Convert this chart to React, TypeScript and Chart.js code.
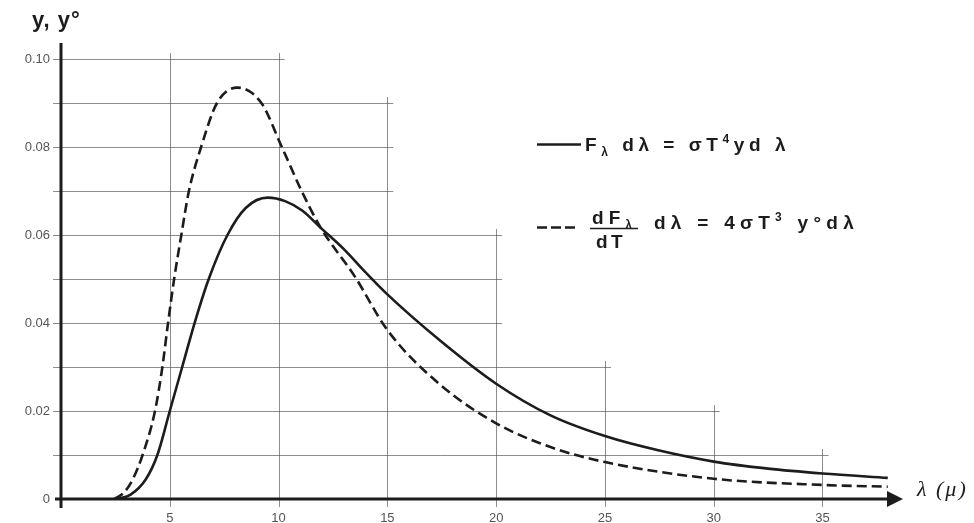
import React, { useEffect, useRef } from 'react';
import { Chart, registerables } from 'chart.js';

Chart.register(...registerables);

// ---- data ----
// solid curve: F_λ dλ = σT⁴ y dλ   (y)
const solidX = [2.6, 3.2, 3.9, 4.43, 5.0, 5.57, 6.14, 6.79, 7.65, 8.5, 9.5, 10.3, 11.1, 11.9, 13.0, 14.0, 15.0, 17.45, 20.0, 22.5, 25.0, 27.5, 30.0, 32.5, 35.0, 38.0];
const solidY = [0.0, 0.001, 0.0045, 0.01, 0.02, 0.03, 0.04, 0.05, 0.06, 0.0662, 0.0685, 0.0677, 0.0655, 0.0618, 0.0568, 0.0515, 0.0465, 0.0359, 0.0262, 0.019, 0.0143, 0.011, 0.0085, 0.0069, 0.0058, 0.0048];
// dashed curve: dFλ/dT dλ = 4σT³ y° dλ   (y°)
const dashedX = [2.45, 2.9, 3.3, 3.75, 4.32, 4.66, 4.92, 5.2, 5.53, 5.88, 6.44, 7.17, 8.1, 9.21, 10.15, 11.06, 11.92, 13.5, 15.0, 17.4, 20.0, 22.5, 25.0, 30.0, 35.0, 38.0];
const dashedY = [0.0, 0.0015, 0.0045, 0.01, 0.02, 0.03, 0.04, 0.05, 0.06, 0.07, 0.08, 0.09, 0.0935, 0.09, 0.08, 0.07, 0.0618, 0.0506, 0.0384, 0.0261, 0.0172, 0.0118, 0.0084, 0.0046, 0.0032, 0.0028];

const xTickValues = [5, 10, 15, 20, 25, 30, 35];
const xTickLabels = ['5', '10', '15', '20', '25', '30', '35'];
const yTickValues = [0, 0.02, 0.04, 0.06, 0.08, 0.1];
const yTickLabels = ['0', '0.02', '0.04', '0.06', '0.08', '0.10'];

// stepped grid of the figure
const vGridX = [5, 10, 15, 20, 25, 30, 35];
const vGridTop = [0.1, 0.1, 0.09, 0.06, 0.03, 0.02, 0.01];
const hGridY = [0.01, 0.02, 0.03, 0.04, 0.05, 0.06, 0.07, 0.08, 0.09, 0.1];
const hGridRight = [35, 30, 25, 20, 20, 20, 15, 15, 15, 10];

const X_MAX = 38.7;
const Y_MAX = 0.10364;

const yTitle = 'y, y°';
const xTitle = 'λ (μ)';
type Run = { t: string; k: 'n' | 'sub' | 'sup' };
const legendSolidRuns: Run[] = [
  { t: 'F', k: 'n' }, { t: 'λ', k: 'sub' }, { t: ' dλ = σT', k: 'n' }, { t: '4', k: 'sup' }, { t: 'yd λ', k: 'n' },
];
const legendDashNum: Run[] = [{ t: 'dF', k: 'n' }, { t: 'λ', k: 'sub' }];
const legendDashDen: Run[] = [{ t: 'dT', k: 'n' }];
const legendDashRest: Run[] = [
  { t: 'dλ = 4σT', k: 'n' }, { t: '3', k: 'sup' }, { t: ' y°dλ', k: 'n' },
];

const INK = '#1c1c1c';
const SANS = '"Liberation Sans", Arial, sans-serif';

function drawRuns(ctx: CanvasRenderingContext2D, runs: Run[], x: number, baseline: number, targetW: number, size: number, weight = '') {
  const fontFor = (k: string) => `${weight}${k === 'n' ? size : Math.round(size * 0.62)}px ${SANS}`;
  (ctx as any).letterSpacing = '0px';
  const widths: number[] = [];
  let nat = 0;
  let n = 0;
  runs.forEach((r) => {
    ctx.font = fontFor(r.k);
    const w = ctx.measureText(r.t).width;
    widths.push(w);
    nat += w;
    n += Array.from(r.t).length;
  });
  const ls = targetW > 0 ? Math.max(0, (targetW - nat) / n) : 0;
  (ctx as any).letterSpacing = `${ls}px`;
  let cx = x;
  runs.forEach((r, i) => {
    ctx.font = fontFor(r.k);
    const dy = r.k === 'sub' ? size * 0.28 : r.k === 'sup' ? -size * 0.42 : 0;
    ctx.fillText(r.t, cx, baseline + dy);
    cx += widths[i] + ls * Array.from(r.t).length;
  });
  (ctx as any).letterSpacing = '0px';
}

const figurePlugin = {
  id: 'figure',
  beforeDatasetsDraw(chart: any) {
    const { ctx, scales } = chart;
    const xs = scales.x;
    const ys = scales.y;
    const x0 = xs.getPixelForValue(0);
    const y0 = ys.getPixelForValue(0);
    ctx.save();
    ctx.strokeStyle = 'rgba(80,80,80,0.65)';
    ctx.lineWidth = 1;
    vGridX.forEach((v, i) => {
      const px = Math.round(xs.getPixelForValue(v)) + 0.5;
      ctx.beginPath();
      ctx.moveTo(px, y0 + 8);
      ctx.lineTo(px, ys.getPixelForValue(vGridTop[i]) - 6);
      ctx.stroke();
    });
    hGridY.forEach((v, i) => {
      const py = Math.round(ys.getPixelForValue(v)) + 0.5;
      ctx.beginPath();
      ctx.moveTo(x0 - 8, py);
      ctx.lineTo(xs.getPixelForValue(hGridRight[i]) + 6, py);
      ctx.stroke();
    });
    ctx.restore();
  },
  afterDatasetsDraw(chart: any) {
    const { ctx, scales, chartArea } = chart;
    const xs = scales.x;
    const ys = scales.y;
    const x0 = xs.getPixelForValue(0);
    const y0 = ys.getPixelForValue(0);
    ctx.save();
    // axes
    ctx.strokeStyle = INK;
    ctx.fillStyle = INK;
    ctx.lineWidth = 3;
    ctx.beginPath();
    ctx.moveTo(x0, y0 + 9);
    ctx.lineTo(x0, chartArea.top);
    ctx.stroke();
    ctx.beginPath();
    ctx.moveTo(x0 - 6, y0);
    ctx.lineTo(chartArea.right - 14, y0);
    ctx.stroke();
    // arrow head
    ctx.beginPath();
    ctx.moveTo(chartArea.right, y0);
    ctx.lineTo(chartArea.right - 16, y0 - 8);
    ctx.lineTo(chartArea.right - 16, y0 + 8);
    ctx.closePath();
    ctx.fill();

    // axis titles
    ctx.textAlign = 'left';
    ctx.textBaseline = 'alphabetic';
    ctx.font = `bold 22px ${SANS}`;
    (ctx as any).letterSpacing = '1px';
    ctx.fillText(yTitle, 32, 27);
    ctx.font = `italic 22px "Liberation Serif", "DejaVu Serif", serif`;
    (ctx as any).letterSpacing = '2px';
    ctx.fillText(xTitle, 917, 496);
    (ctx as any).letterSpacing = '0px';

    // legend: solid
    ctx.lineWidth = 2.5;
    ctx.setLineDash([]);
    ctx.beginPath();
    ctx.moveTo(537, 144.5);
    ctx.lineTo(581, 144.5);
    ctx.stroke();
    drawRuns(ctx, legendSolidRuns, 585, 151, 205, 19, 'bold ');

    // legend: dashed
    ctx.setLineDash([10, 4]);
    ctx.beginPath();
    ctx.moveTo(537, 227.5);
    ctx.lineTo(578, 227.5);
    ctx.stroke();
    ctx.setLineDash([]);
    drawRuns(ctx, legendDashNum, 592, 224, 45, 19, 'bold ');
    ctx.lineWidth = 1.6;
    ctx.beginPath();
    ctx.moveTo(590, 228.5);
    ctx.lineTo(638, 228.5);
    ctx.stroke();
    drawRuns(ctx, legendDashDen, 596, 248, 30, 19, 'bold ');
    drawRuns(ctx, legendDashRest, 654, 229, 205, 19, 'bold ');
    ctx.restore();
  },
};

export default function App() {
  const canvasRef = useRef<HTMLCanvasElement | null>(null);

  useEffect(() => {
    if (!canvasRef.current) return;
    const chart = new Chart(canvasRef.current, {
      type: 'line',
      data: {
        datasets: [
          {
            label: 'y',
            data: solidX.map((x, i) => ({ x, y: solidY[i] })),
            borderColor: INK,
            borderWidth: 2.6,
            pointRadius: 0,
            cubicInterpolationMode: 'monotone',
            fill: false,
          },
          {
            label: 'y°',
            data: dashedX.map((x, i) => ({ x, y: dashedY[i] })),
            borderColor: INK,
            borderWidth: 2.6,
            borderDash: [10, 5],
            pointRadius: 0,
            cubicInterpolationMode: 'monotone',
            fill: false,
          },
        ],
      },
      options: {
        animation: false,
        responsive: false,
        devicePixelRatio: 1,
        layout: { padding: { top: 43, right: 71, left: 0, bottom: 0 } },
        plugins: { legend: { display: false }, tooltip: { enabled: false }, title: { display: false } },
        scales: {
          x: {
            type: 'linear',
            min: 0,
            max: X_MAX,
            grid: { display: false, drawTicks: false },
            border: { display: false },
            afterFit: (s: any) => { s.height = 24; },
            afterBuildTicks: (s: any) => { s.ticks = xTickValues.map((v) => ({ value: v })); },
            ticks: {
              autoSkip: false,
              maxRotation: 0,
              padding: 12,
              color: '#555',
              font: { family: SANS, size: 13 },
              callback: (v: any) => xTickLabels[xTickValues.indexOf(Number(v))] ?? '',
            },
          },
          y: {
            type: 'linear',
            min: 0,
            max: Y_MAX,
            grid: { display: false, drawTicks: false },
            border: { display: false },
            afterFit: (s: any) => { s.width = 61; },
            afterBuildTicks: (s: any) => { s.ticks = yTickValues.map((v) => ({ value: v })); },
            ticks: {
              autoSkip: false,
              padding: 11,
              color: '#555',
              font: { family: SANS, size: 13 },
              callback: (v: any) => {
                const i = yTickValues.findIndex((t) => Math.abs(t - Number(v)) < 1e-9);
                return i >= 0 ? yTickLabels[i] : '';
              },
            },
          },
        },
      },
      plugins: [figurePlugin],
    } as any);
    return () => chart.destroy();
  }, []);

  return (
    <div style={{ position: 'fixed', left: 0, top: 0, width: 974, height: 523, background: '#fff' }}>
      <canvas ref={canvasRef} width={974} height={523} style={{ display: 'block' }} />
    </div>
  );
}
